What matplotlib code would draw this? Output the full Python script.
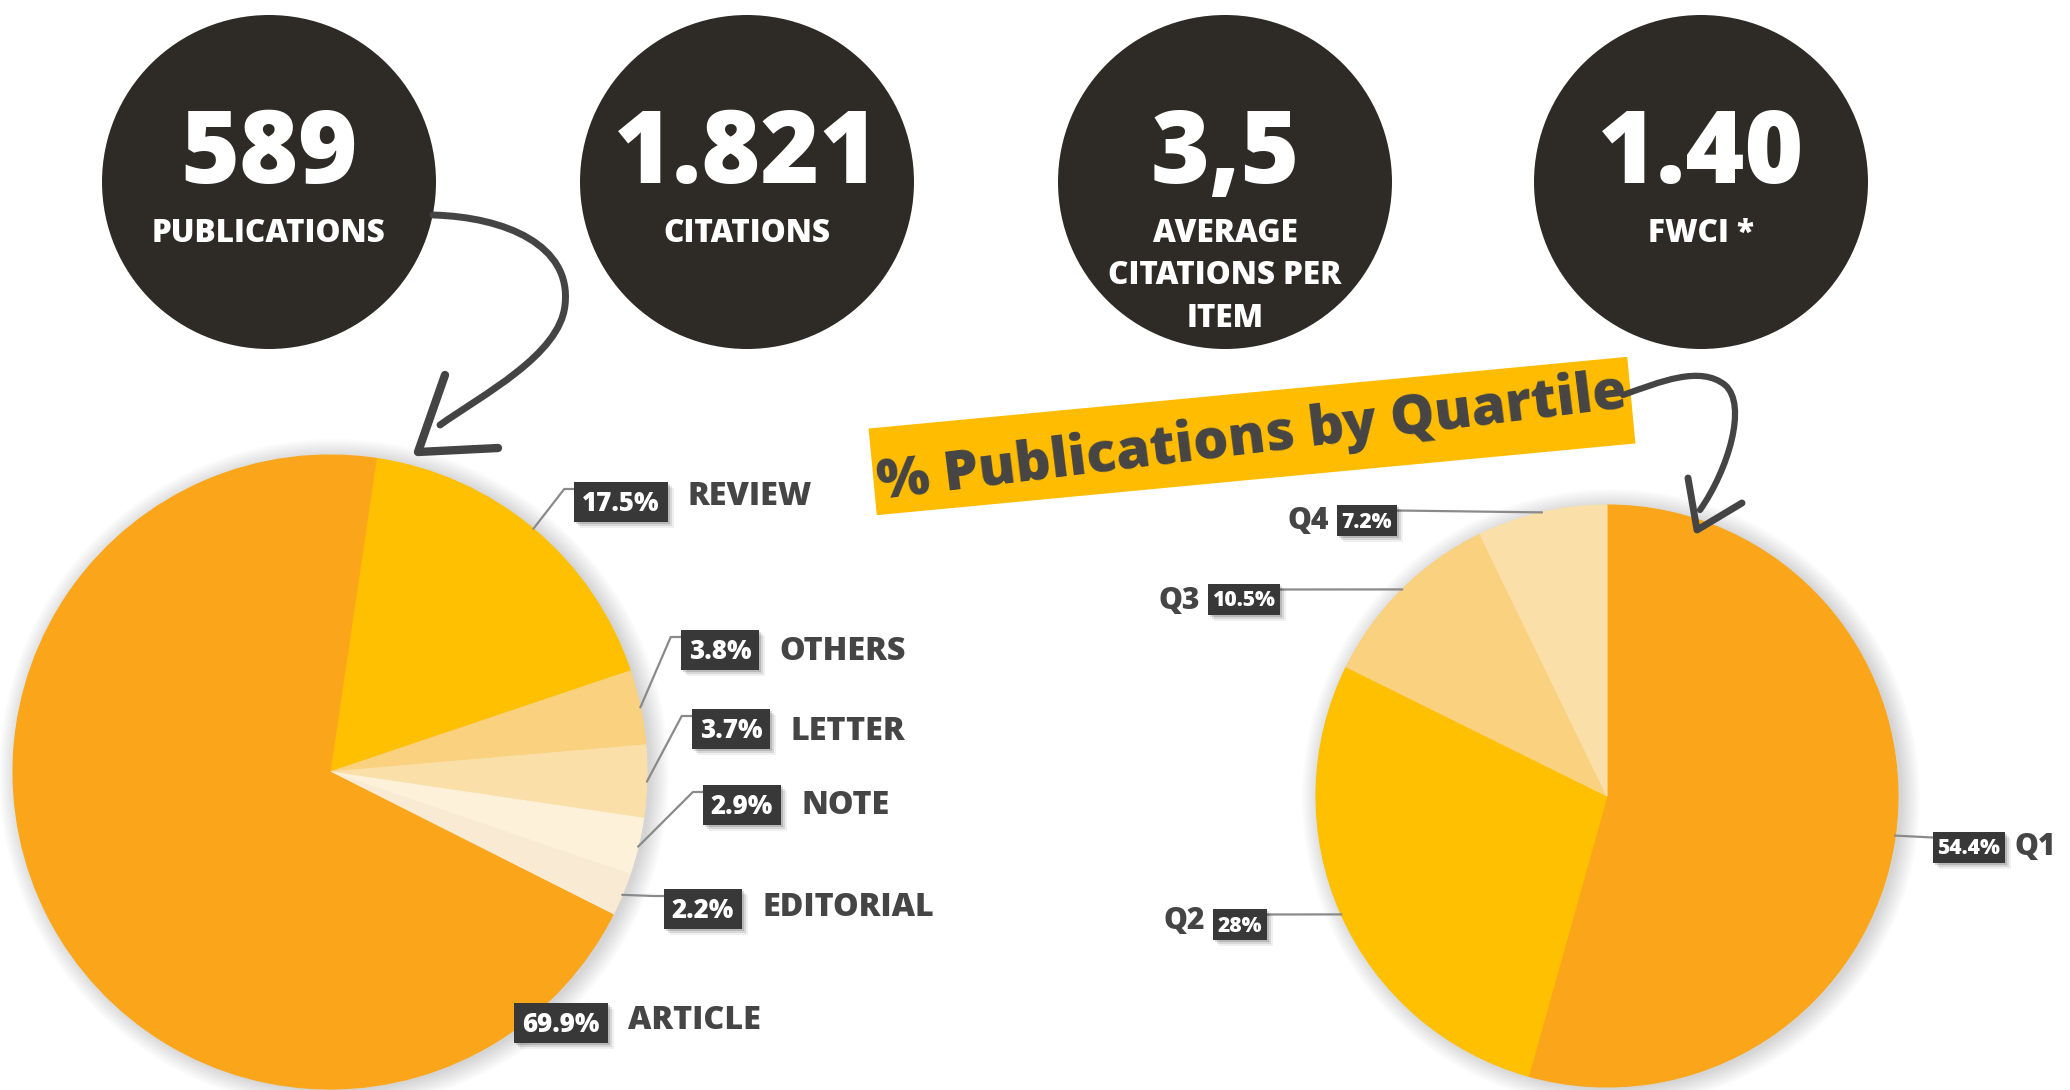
import matplotlib
matplotlib.use("Agg")
import matplotlib.pyplot as plt
import numpy as np
from matplotlib.patches import Circle, Rectangle, PathPatch
from matplotlib.path import Path

W, H = 2070, 1090

# KPI bubbles
kpi_values = ["589", "1.821", "3,5", "1.40"]
kpi_labels = ["PUBLICATIONS", "CITATIONS", "AVERAGE\nCITATIONS PER\nITEM", "FWCI *"]

# document types (pie order, clockwise from top)
doc_types = ["REVIEW", "OTHERS", "LETTER", "NOTE", "EDITORIAL", "ARTICLE"]
doc_share = [17.5, 3.8, 3.7, 2.9, 2.2, 69.9]

# quartiles
quartiles = ["Q1", "Q2", "Q3", "Q4"]
quartile_share = [54.4, 28, 10.5, 7.2]

ORANGE = "#FBA61A"
YELLOW = "#FEC000"
doc_colors = [YELLOW, "#F9D17F", "#FAE0A8", "#FDF1DA", "#F9EBD3", ORANGE]
q_colors = [ORANGE, YELLOW, "#F9D17F", "#FAE0A8"]
DARK = "#2E2B27"
TEXT = "#454545"
TAG = "#383838"
LINE = "#8a8a8a"
BOLD = 800

plt.rcParams["font.family"] = ["Open Sans", "DejaVu Sans"]

fig = plt.figure(figsize=(W / 100, H / 100), dpi=100)
ax = fig.add_axes([0, 0, 1, 1])
renderer = fig.canvas.get_renderer()


def Y(y):
    # pixel row (top-down) -> data y
    return H - y


def fs(cap_px):
    # font size in pt for a given cap height in px
    return cap_px / 0.714 * 0.72


def soft_shadow(cx, cy, r):
    for k in range(14):
        ax.add_patch(Circle((cx + 4, cy - 2), r + k * 1.4, color="k",
                            alpha=0.010, lw=0, zorder=0.5))


def tag(cx, cy, s, cap, h, padx):
    t = ax.text(cx, Y(cy + cap / 2), s, ha="center", va="baseline",
                fontsize=fs(cap), color="white", fontweight=BOLD, zorder=7)
    w = t.get_window_extent(renderer).width + 2 * padx
    for k, a in [(6, 0.06), (4, 0.10), (2, 0.14)]:
        ax.add_patch(Rectangle((cx - w / 2 + k, Y(cy + h / 2) - k), w, h,
                               color="k", alpha=a, lw=0, zorder=5))
    ax.add_patch(Rectangle((cx - w / 2, Y(cy + h / 2)), w, h,
                           color=TAG, lw=0, zorder=6))
    return cx - w / 2, cx + w / 2, cy - h / 2


def edge_point(wedge, center, r):
    th = np.deg2rad((wedge.theta1 + wedge.theta2) / 2)
    return center[0] + r * np.cos(th), center[1] + r * np.sin(th)


# ---- KPI circles ----
kpi_x = [269, 747, 1225, 1701]
for x, v, lab in zip(kpi_x, kpi_values, kpi_labels):
    ax.add_patch(Circle((x, Y(182)), 167, color=DARK, lw=0, zorder=2))
    ax.text(x, Y(183), v, ha="center", va="baseline", fontsize=fs(72),
            color="white", fontweight=BOLD, zorder=3)
    for i, line in enumerate(lab.split("\n")):
        ax.text(x, Y(242 + 42.5 * i), line, ha="center", va="baseline",
                fontsize=fs(22.5), color="white", fontweight=BOLD, zorder=3)

# ---- document type pie ----
c1, r1 = (330, Y(772)), 317
soft_shadow(c1[0], c1[1], r1)
wedges1, _ = ax.pie(doc_share, colors=doc_colors, startangle=81.6,
                    counterclock=False, center=c1, radius=r1)
for w, c in zip(wedges1, doc_colors):
    w.set_edgecolor(c)
    w.set_linewidth(0.8)
    w.set_zorder(2)

doc_boxes = [(621, 502), (720, 650), (731, 729), (742, 805), (703, 909), (561, 1023)]
doc_label_y = [494, 649, 729, 803, 905, 1018]
for i, (name, val) in enumerate(zip(doc_types, doc_share)):
    bx, by = doc_boxes[i]
    left, right, top = tag(bx, by, f"{val:g}%", 18.5, 40, 8)
    ax.text(right + 20, Y(doc_label_y[i] + 11), name, ha="left", va="baseline",
            fontsize=fs(23), color=TEXT, fontweight=BOLD, zorder=7)
    if name != "ARTICLE":
        sx, sy = edge_point(wedges1[i], c1, r1)
        ax.plot([sx, left - 10, left], [sy, Y(top + 7), Y(top + 7)],
                color=LINE, lw=1.6, zorder=4, solid_capstyle="round")

# ---- quartile pie ----
c2, r2 = (1607, Y(796)), 291
soft_shadow(c2[0], c2[1], r2)
wedges2, _ = ax.pie(quartile_share, colors=q_colors, startangle=90,
                    counterclock=False, center=c2, radius=r2)
for w, c in zip(wedges2, q_colors):
    w.set_edgecolor(c)
    w.set_linewidth(0.8)
    w.set_zorder(2)

q_boxes = [(1969, 847), (1240, 924), (1244, 599), (1367, 520)]
q_label_y = [844, 919, 599, 519]
for i, (name, val) in enumerate(zip(quartiles, quartile_share)):
    bx, by = q_boxes[i]
    left, right, top = tag(bx, by, f"{val:g}%", 15, 31, 5)
    sx, sy = edge_point(wedges2[i], c2, r2)
    if i == 0:
        ax.text(right + 9, Y(q_label_y[i] + 10.5), name, ha="left", va="baseline",
                fontsize=fs(21.5), color=TEXT, fontweight=BOLD, zorder=7)
        ax.plot([sx, left], [sy, Y(top + 6)], color=LINE, lw=1.6, zorder=4)
    else:
        ax.text(left - 8, Y(q_label_y[i] + 10.5), name, ha="right", va="baseline",
                fontsize=fs(21.5), color=TEXT, fontweight=BOLD, zorder=7)
        ax.plot([right, sx], [Y(top + 6), sy], color=LINE, lw=1.6, zorder=4)

# ---- banner ----
ax.add_patch(Rectangle((1252 - 381, Y(436) - 43.5), 762, 87, angle=5.4,
                       rotation_point="center", color="#FFBC00", lw=0, zorder=3))
ax.text(1252, Y(438), "% Publications by Quartile", ha="center", va="center",
        rotation=7, rotation_mode="anchor", fontsize=fs(39.5), color=TEXT,
        fontweight=BOLD, zorder=4)


# ---- hand-drawn arrows ----
def stroke(pts, codes, lw):
    verts = [(x, Y(y)) for x, y in pts]
    ax.add_patch(PathPatch(Path(verts, codes), fill=False, ec="#444444", lw=lw,
                           capstyle="round", joinstyle="round", zorder=8))


C4 = Path.CURVE4
stroke([(433, 215), (505, 217), (572, 245), (565, 305),
        (560, 355), (482, 395), (440, 425)],
       [Path.MOVETO, C4, C4, C4, C4, C4, C4], 5)
stroke([(445, 375), (418, 452), (498, 448)],
       [Path.MOVETO, Path.LINETO, Path.LINETO], 6)

stroke([(1623, 395), (1660, 382), (1700, 365), (1725, 385),
        (1748, 405), (1728, 470), (1700, 510)],
       [Path.MOVETO, C4, C4, C4, C4, C4, C4], 4.5)
stroke([(1688, 478), (1697, 530), (1742, 503)],
       [Path.MOVETO, Path.LINETO, Path.LINETO], 5)

ax.set_xlim(0, W)
ax.set_ylim(0, H)
ax.axis("off")
fig.savefig("out.png", dpi=100, facecolor="white")
